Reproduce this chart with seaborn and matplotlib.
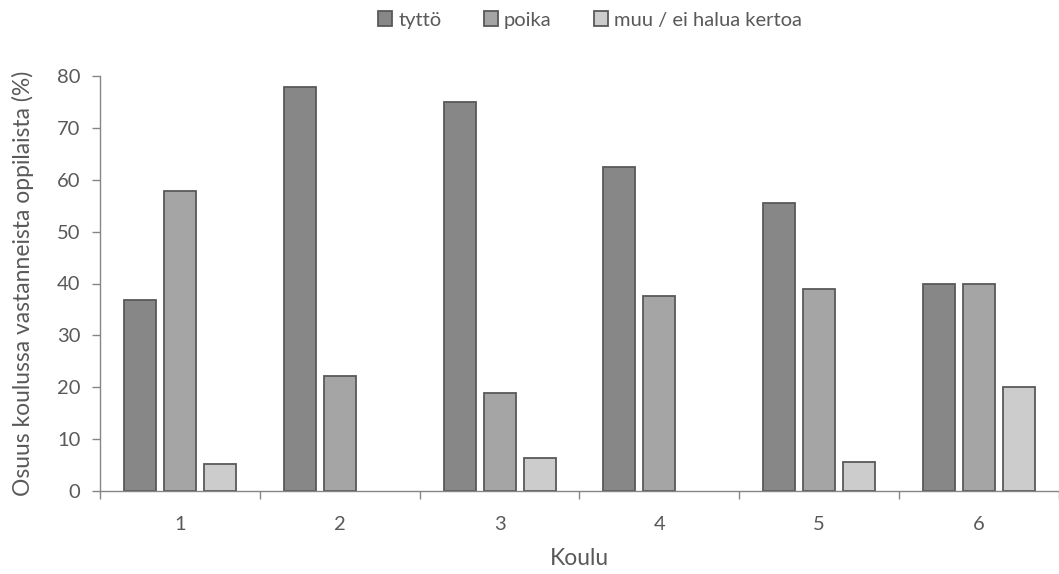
import pandas as pd
import matplotlib.pyplot as plt
from matplotlib.patches import Patch
import seaborn as sns

# data
schools = ["1", "2", "3", "4", "5", "6"]
tytto = [36.8, 77.8, 75.0, 62.5, 55.6, 40.0]
poika = [57.9, 22.2, 18.8, 37.5, 38.9, 40.0]
muu = [5.3, 0.0, 6.3, 0.0, 5.6, 20.0]
groups = ["tyttö", "poika", "muu / ei halua kertoa"]
colors = ["#878787", "#a5a5a5", "#cccccc"]

df = pd.DataFrame({
    "Koulu": schools * 3,
    "ryhmä": [groups[0]] * 6 + [groups[1]] * 6 + [groups[2]] * 6,
    "osuus": tytto + poika + muu,
})

sns.set_style("white")
plt.rcParams["font.family"] = ["Lato", "DejaVu Sans"]

fig = plt.figure(figsize=(10.59, 5.74), dpi=100)
ax = fig.add_axes([100 / 1059, 83 / 574, 959 / 1059, 415 / 574])

edge = "#595959"
sns.barplot(data=df, x="Koulu", y="osuus", hue="ryhmä", hue_order=groups,
            palette=colors, width=0.75, gap=0.2, edgecolor=edge,
            linewidth=1.3, saturation=1, ax=ax, legend=False)

# hide zero-height bars
for p in ax.patches:
    if p.get_height() == 0:
        p.set_visible(False)

ax.set_ylim(0, 80)
ax.set_xlim(-0.5, 5.5)
ax.set_yticks(range(0, 81, 10))
ax.set_xticks(range(6), schools)
ax.set_xticks([i - 0.5 for i in range(7)], minor=True)

axis_col = "#868686"
text_col = "#595959"
for s in ["top", "right"]:
    ax.spines[s].set_visible(False)
for s in ["left", "bottom"]:
    ax.spines[s].set_color(axis_col)
    ax.spines[s].set_linewidth(1.0)

ax.tick_params(axis="x", which="both", bottom=True)
ax.tick_params(axis="x", which="major", length=0, pad=18, labelsize=14.5, labelcolor=text_col)
ax.tick_params(axis="x", which="minor", length=6, width=1, color=axis_col, direction="out")
ax.tick_params(axis="y", left=True, length=6, width=1, color=axis_col, direction="out",
               labelsize=14.5, labelcolor=text_col, pad=8)

ax.set_xlabel("Koulu", fontsize=16.5, color=text_col, labelpad=11)
ax.set_ylabel("Osuus koulussa vastanneista oppilaista (%)", fontsize=16.5, color=text_col)
ax.yaxis.set_label_coords(-0.069, 0.5)

handles = [Patch(facecolor=c, edgecolor=edge, linewidth=1.3) for c in colors]
fig.legend(handles, groups, loc="center", bbox_to_anchor=(590 / 1059, 1 - 20 / 574),
           ncol=3, frameon=False, fontsize=14.5, handlelength=0.7, handleheight=0.7,
           handletextpad=0.3, columnspacing=2.1, labelcolor=text_col)

fig.savefig("out.png", dpi=100)
